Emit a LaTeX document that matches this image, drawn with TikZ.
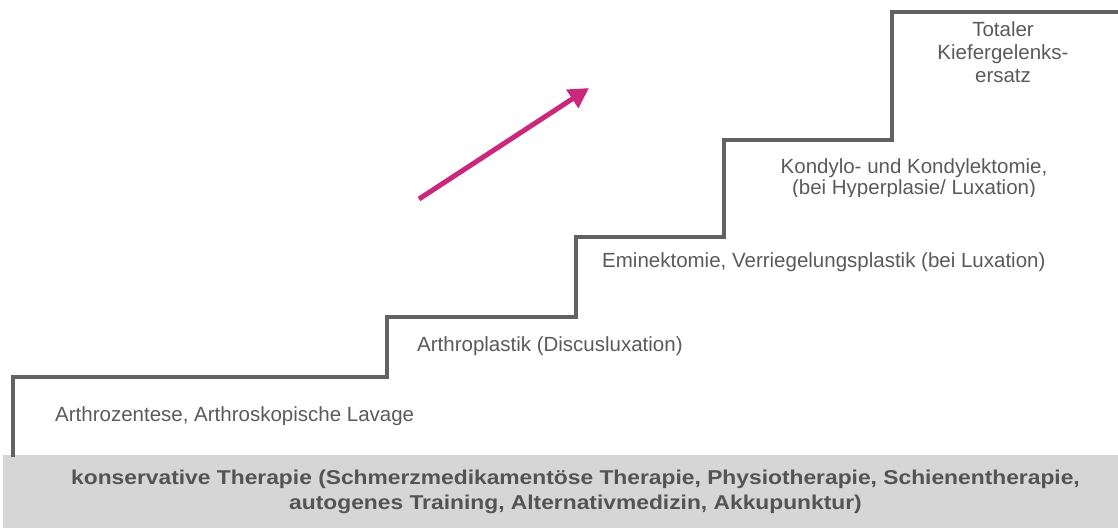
\documentclass[tikz,border=0pt]{standalone}
\usepackage{fontspec}
\setmainfont{Liberation Sans}
\newfontfamily\widebold{Liberation Sans Bold}[FakeStretch=1.14]
\usetikzlibrary{arrows.meta}
\definecolor{stairgray}{HTML}{626262}
\definecolor{txtgray}{HTML}{5A5A5A}
\definecolor{boldgray}{HTML}{545454}
\definecolor{bargray}{HTML}{D6D6D6}
\definecolor{magenta}{HTML}{C9287C}
\tikzset{
  steptext/.style={anchor=base west, inner sep=0pt, text=txtgray, font=\fontsize{20.5}{23}\selectfont},
  ctrtext/.style={anchor=base, inner sep=0pt, text=txtgray, font=\fontsize{20.5}{23}\selectfont},
  bartext/.style={anchor=base, inner sep=0pt, text=boldgray, font=\widebold\fontsize{20}{24}\selectfont},
  stairline/.style={draw=stairgray, line width=4pt, line join=miter},
  uparrow/.style={draw=magenta, line width=5pt, -{Triangle[length=20pt, width=21pt]}}
}
\begin{document}
\begin{tikzpicture}[x=1pt, y=-1pt]
\useasboundingbox (0,0) rectangle (1118,528);
% base bar
\fill[bargray] (3,455) rectangle (1118,528);
\node[bartext] (b1) at (575.5,484) {konservative Therapie (Schmerzmedikamentöse Therapie, Physiotherapie, Schienentherapie,};
\node[bartext] (b2) at (575.5,509) {autogenes Training, Alternativmedizin, Akkupunktur)};
% stairs
\draw[stairline] (13,457) -- (13,377) -- (387,377) -- (387,317) -- (576,317) -- (576,237) -- (724,237) -- (724,140) -- (892,140) -- (892,12) -- (1120,12);
% step labels
\begin{scope}
\clip (0,0) rectangle (1118,424);
\node[steptext] (s1) at (55,421) {Arthrozentese, Arthroskopische Lavage};
\end{scope}
\node[steptext] (s2) at (417,351) {Arthroplastik (Discusluxation)};
\node[steptext] (s3) at (602,267) {Eminektomie, Verriegelungsplastik (bei Luxation)};
\node[ctrtext] (s4a) at (914,173) {Kondylo- und Kondylektomie,};
\begin{scope}
\clip (0,0) rectangle (1118,196);
\node[ctrtext] (s4b) at (914,194) {(bei Hyperplasie/ Luxation)};
\end{scope}
\node[ctrtext] (s5a) at (1003,36) {Totaler};
\node[ctrtext] (s5b) at (1003,59) {Kiefergelenks-};
\node[ctrtext] (s5c) at (1003,82) {ersatz};
% arrow
\coordinate (atail) at (419,199);
\coordinate (ahead) at (589,88);
\draw[uparrow] (atail) -- (ahead);
\end{tikzpicture}
\end{document}
